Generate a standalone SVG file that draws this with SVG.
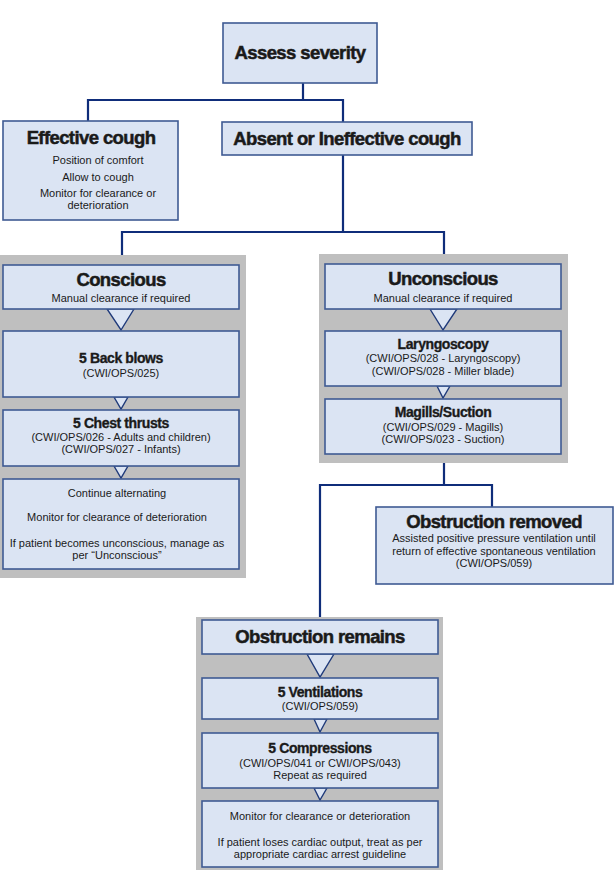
<svg xmlns="http://www.w3.org/2000/svg" width="615" height="870" viewBox="0 0 615 870">
<style>
.bg{fill:#ffffff}
.panel{fill:#bfbfbf}
.box{fill:#dbe4f3;stroke:#3f5a93;stroke-width:1.6}
.tri{fill:#dbe4f3;stroke:#1f3a7a;stroke-width:1.4;stroke-linejoin:miter}
.conn{fill:none;stroke:#0f2d7a;stroke-width:2.2}
text{font-family:"Liberation Sans",Arial,sans-serif;fill:#1a1a1a;text-anchor:middle}
.h1{font-size:18.5px;font-weight:bold;letter-spacing:-0.6px;stroke:#1a1a1a;stroke-width:0.5}
.h2{font-size:14px;font-weight:bold;letter-spacing:-0.4px;stroke:#1a1a1a;stroke-width:0.35}
.t{font-size:11px}
</style>
<rect class="bg" x="0" y="0" width="615" height="870"/>
<rect class="panel" x="0" y="255" width="246" height="323"/>
<rect class="panel" x="319" y="254" width="249" height="209"/>
<rect class="panel" x="196" y="617" width="247" height="253"/>
<g id="connectors">
<path class="conn" d="M303 83 V100 M88 121 V100 H343 V122"/>
<path class="conn" d="M343 155 V232 M122 255 V232 H444 V254"/>
<path class="conn" d="M444 463 V485 M320 617 V485 H492 V507"/>
<polygon class="tri" points="107,309 134,309 121,330"/>
<polygon class="tri" points="114,397 128,397 121,409"/>
<polygon class="tri" points="114,466 128,466 121,478"/>
<polygon class="tri" points="430,309 457,309 443,330"/>
<polygon class="tri" points="437,386 450,386 443,398"/>
<polygon class="tri" points="307,654 334,654 320,677"/>
<polygon class="tri" points="314,719 327,719 320,732"/>
<polygon class="tri" points="314,788 327,788 320,800"/>
</g>
<g id="assess">
<rect class="box" x="223" y="23" width="154" height="60"/>
<text class="h1" x="300" y="59">Assess severity</text>
</g>
<g id="effective">
<rect class="box" x="3" y="121" width="175" height="99"/>
<text class="h1" x="91" y="144">Effective cough</text>
<text class="t" x="98" y="164">Position of comfort</text>
<text class="t" x="98" y="181">Allow to cough</text>
<text class="t" x="98" y="197">Monitor for clearance or</text>
<text class="t" x="98" y="209">deterioration</text>
</g>
<g id="absent">
<rect class="box" x="222" y="122" width="250" height="33"/>
<text class="h1" x="347" y="145">Absent or Ineffective cough</text>
</g>
<g id="conscious">
<rect class="box" x="3" y="265" width="236" height="44"/>
<text class="h1" x="121" y="286">Conscious</text>
<text class="t" x="121" y="302">Manual clearance if required</text>
</g>
<g id="backblows">
<rect class="box" x="3" y="331" width="236" height="66"/>
<text class="h2" x="121" y="363">5 Back blows</text>
<text class="t" x="121" y="377">(CWI/OPS/025)</text>
</g>
<g id="chest">
<rect class="box" x="3" y="410" width="236" height="56"/>
<text class="h2" x="121" y="428">5 Chest thrusts</text>
<text class="t" x="121" y="441">(CWI/OPS/026 - Adults and children)</text>
<text class="t" x="121" y="453">(CWI/OPS/027 - Infants)</text>
</g>
<g id="continue">
<rect class="box" x="3" y="479" width="236" height="90"/>
<text class="t" x="117" y="497">Continue alternating</text>
<text class="t" x="117" y="521">Monitor for clearance of deterioration</text>
<text class="t" x="117" y="547">If patient becomes unconscious, manage as</text>
<text class="t" x="117" y="559">per “Unconscious”</text>
</g>
<g id="unconscious">
<rect class="box" x="325" y="264" width="236" height="45"/>
<text class="h1" x="443" y="285">Unconscious</text>
<text class="t" x="443" y="302">Manual clearance if required</text>
</g>
<g id="laryngoscopy">
<rect class="box" x="325" y="331" width="236" height="55"/>
<text class="h2" x="443" y="349">Laryngoscopy</text>
<text class="t" x="443" y="362">(CWI/OPS/028 - Laryngoscopy)</text>
<text class="t" x="443" y="375">(CWI/OPS/028 - Miller blade)</text>
</g>
<g id="magills">
<rect class="box" x="325" y="399" width="236" height="55"/>
<text class="h2" x="443" y="417">Magills/Suction</text>
<text class="t" x="443" y="431">(CWI/OPS/029 - Magills)</text>
<text class="t" x="443" y="443">(CWI/OPS/023 - Suction)</text>
</g>
<g id="removed">
<rect class="box" x="376" y="507" width="237" height="77"/>
<text class="h1" x="494" y="528">Obstruction removed</text>
<text class="t" x="494" y="542">Assisted positive pressure ventilation until</text>
<text class="t" x="494" y="555">return of effective spontaneous ventilation</text>
<text class="t" x="494" y="567">(CWI/OPS/059)</text>
</g>
<g id="remains">
<rect class="box" x="202" y="620" width="236" height="34"/>
<text class="h1" x="320" y="643">Obstruction remains</text>
</g>
<g id="ventilations">
<rect class="box" x="202" y="678" width="236" height="41"/>
<text class="h2" x="320" y="697">5 Ventilations</text>
<text class="t" x="320" y="710">(CWI/OPS/059)</text>
</g>
<g id="compressions">
<rect class="box" x="202" y="733" width="236" height="55"/>
<text class="h2" x="320" y="753">5 Compressions</text>
<text class="t" x="320" y="767">(CWI/OPS/041 or CWI/OPS/043)</text>
<text class="t" x="320" y="779">Repeat as required</text>
</g>
<g id="monitor">
<rect class="box" x="202" y="801" width="236" height="66"/>
<text class="t" x="320" y="820">Monitor for clearance or deterioration</text>
<text class="t" x="320" y="846">If patient loses cardiac output, treat as per</text>
<text class="t" x="320" y="858">appropriate cardiac arrest guideline</text>
</g>
</svg>
